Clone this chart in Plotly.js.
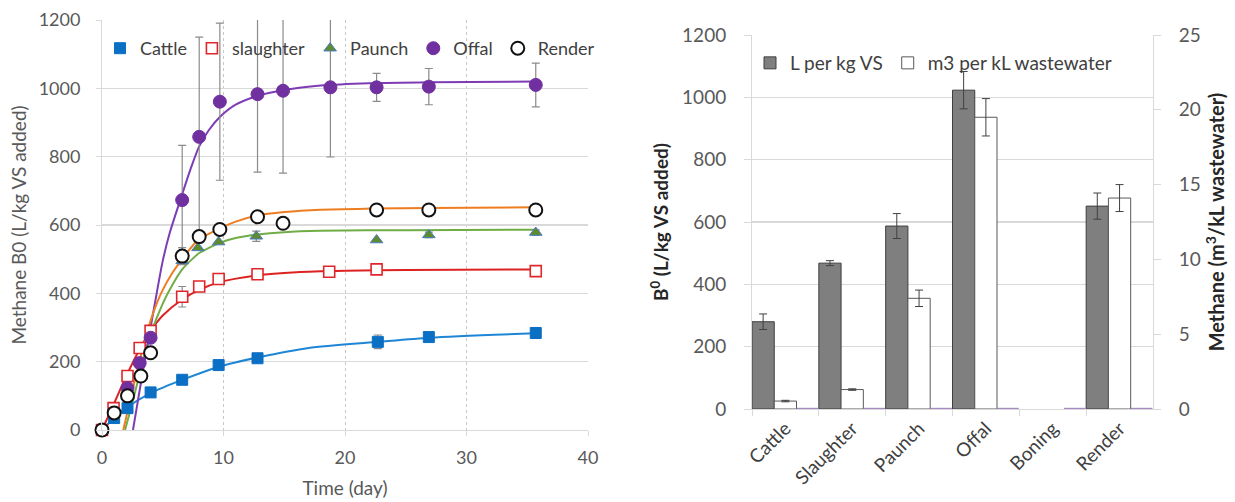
<!DOCTYPE html>
<html>
<head>
<meta charset="utf-8">
<script src="https://cdn.plot.ly/plotly-3.0.1.min.js"></script>
<style>html,body{margin:0;padding:0;background:#fff;}#chart{width:1235px;height:502px;}</style>
</head>
<body>
<div id="chart"></div>
<script>
// ---------- Left chart: cumulative methane (measured points) ----------
const cattleT = [0, 1, 2.1, 4, 6.6, 9.6, 12.8, 22.7, 26.9, 35.7];
const cattleY = [0, 35, 64, 110, 147, 190, 210, 258, 272, 284];
const cattleErr = [0, 0, 0, 0, 0, 0, 0, 20, 8, 15];

const slaughterT = [0, 0.95, 2.1, 3.1, 4, 6.6, 8, 9.6, 12.8, 18.7, 22.6, 35.7];
const slaughterY = [0, 64, 158, 240, 290, 390, 420, 442, 456, 463, 470, 465];
const slaughterErr = [0, 0, 0, 0, 0, 30, 0, 0, 0, 0, 8, 0];

const paunchT = [6.6, 7.9, 9.6, 12.7, 22.6, 26.9, 35.7];
const paunchY = [495, 533, 550, 567, 556, 571, 578];
const paunchErr = [0, 0, 0, 15, 0, 8, 8];

const offalT = [0, 2.1, 3.1, 4, 6.6, 8, 9.7, 12.8, 14.9, 18.8, 22.6, 26.9, 35.7];
const offalY = [0, 123, 196, 270, 673, 858, 961, 983, 993, 1003, 1003, 1005, 1010];
const offalErr = [0, 0, 0, 0, 160, 292, 230, 228, 241, 204, 41, 53, 64];

const renderT = [0, 1, 2.1, 3.2, 4, 6.6, 8, 9.7, 12.8, 14.9, 22.6, 26.9, 35.7];
const renderY = [0, 50, 100, 158, 226, 509, 566, 587, 624, 605, 644, 644, 644];
const renderErr = [0, 0, 0, 0, 0, 25, 0, 0, 0, 0, 12, 10, 15];

// ---------- Left chart: fitted curves ----------
const cattleFitT = [0, 1, 2, 4, 6.7, 9.7, 12.8, 17, 22.8, 27, 35.7];
const cattleFitY = [0, 35, 65, 108, 148, 186, 212, 240, 258, 270, 283];

const slaughterFitT = [0, 1, 2, 3, 4, 5, 6.6, 8, 9.6, 12.8, 16, 20, 25, 35.7];
const slaughterFitY = [0, 78, 158, 230, 290, 335, 382, 410, 432, 453, 462, 466, 468, 470];

const paunchFitT = [1.9, 2.5, 3, 3.5, 4, 5, 5.8, 6.6, 7.6, 8, 9.7, 11, 12.8, 15, 18, 25, 35.7];
const paunchFitY = [0, 80, 150, 220, 280, 370, 425, 470, 506, 518, 548, 562, 572, 579, 583, 585, 586];

const offalFitT = [2.55, 3, 3.5, 4, 4.5, 5, 5.6, 6.6, 7.3, 8, 8.8, 9.7, 11, 12.8, 15, 18, 22, 27, 35.7];
const offalFitY = [0, 95, 200, 300, 400, 495, 580, 690, 765, 830, 878, 916, 952, 978, 995, 1008, 1015, 1018, 1020];

const renderFitT = [1.75, 2.5, 3, 3.5, 4, 4.5, 5, 5.8, 6.6, 7.6, 8, 9.7, 11, 12.8, 15, 18, 22, 27, 35.7];
const renderFitY = [0, 115, 190, 258, 320, 370, 410, 460, 500, 545, 558, 590, 610, 628, 638, 645, 648, 650, 652];

// ---------- Right chart: bars (Boning has no bar) ----------
const categories = ['Cattle', 'Slaughter', 'Paunch', 'Offal', 'Boning', 'Render'];
const lPerKgVS = [280, 468, 587, 1023, null, 651];
const lPerKgVSErr = [25, 8, 40, 60, null, 42];
const m3PerKL = [0.53, 1.3, 7.4, 19.5, null, 14.1];
const m3PerKLErr = [0.05, 0.05, 0.55, 1.25, null, 0.9];
const otherSeries = [0.03, 0.03, 0.03, 0.03, 0.03, 0.03];

const FONT = 'Lato, "Open Sans", sans-serif';
const TXT = '#595959';
const GRID = '#d9d9d9';
const ERR = '#8a8a8a';

function fit(t, y, color) {
  return {x: t, y: y, type: 'scatter', mode: 'lines', xaxis: 'x', yaxis: 'y',
    line: {color: color, width: 2, shape: 'spline', smoothing: 0.7},
    showlegend: false, hoverinfo: 'skip'};
}
function pts(name, t, y, err, marker) {
  return {x: t, y: y, name: name, type: 'scatter', mode: 'markers', xaxis: 'x', yaxis: 'y',
    marker: marker, legend: 'legend', cliponaxis: false,
    error_y: {type: 'data', array: err, visible: true, color: ERR, thickness: 1.2, width: 4}};
}

const traces = [
  fit(cattleFitT, cattleFitY, '#1f86d6'),
  fit(slaughterFitT, slaughterFitY, '#dd2222'),
  fit(paunchFitT, paunchFitY, '#70ad47'),
  fit(offalFitT, offalFitY, '#7d3cb5'),
  fit(renderFitT, renderFitY, '#ee7d22'),
  pts('Cattle', cattleT, cattleY, cattleErr,
      {symbol: 'square', size: 11, color: '#0b6fc4', line: {color: '#0b6fc4', width: 1}}),
  pts('slaughter', slaughterT, slaughterY, slaughterErr,
      {symbol: 'square', size: 11, color: '#ffffff', line: {color: '#e0262a', width: 1.6}}),
  pts('Paunch', paunchT, paunchY, paunchErr,
      {symbol: 'triangle-up', size: 11, color: '#5f8a2e', line: {color: '#4a7cc4', width: 1}}),
  pts('Offal', offalT, offalY, offalErr,
      {symbol: 'circle', size: 13, color: '#7030a0', line: {color: '#7030a0', width: 1}}),
  pts('Render', renderT, renderY, renderErr,
      {symbol: 'circle', size: 13, color: '#ffffff', line: {color: '#111111', width: 2}}),
  // right chart
  {x: categories, y: lPerKgVS, name: 'L per kg VS', type: 'bar', xaxis: 'x2', yaxis: 'y2',
   width: 0.333, offset: -0.5, legend: 'legend2',
   marker: {color: '#7f7f7f', line: {color: '#3f3f3f', width: 1}},
   error_y: {type: 'data', array: lPerKgVSErr, visible: true, color: '#404040', thickness: 1, width: 4}},
  {x: categories, y: m3PerKL, name: 'm3 per kL wastewater', type: 'bar', xaxis: 'x2', yaxis: 'y3',
   width: 0.333, offset: -0.167, legend: 'legend2',
   marker: {color: '#ffffff', line: {color: '#595959', width: 1}},
   error_y: {type: 'data', array: m3PerKLErr, visible: true, color: '#404040', thickness: 1, width: 4}},
  {x: categories, y: otherSeries, name: 'other', type: 'bar', xaxis: 'x2', yaxis: 'y3',
   width: 0.3, offset: 0.18, showlegend: false, hoverinfo: 'skip',
   marker: {color: '#ffffff', line: {color: '#a58ac4', width: 1.5}}}
];

const layout = {
  width: 1235, height: 502,
  margin: {l: 0, r: 0, t: 0, b: 0},
  paper_bgcolor: '#ffffff', plot_bgcolor: 'rgba(0,0,0,0)',
  font: {family: FONT, size: 18, color: TXT},
  showlegend: true,
  xaxis: {domain: [102/1235, 588/1235], range: [0, 40], dtick: 10, tick0: 0,
    showgrid: true, gridcolor: '#c8c8c8', griddash: 'dot', gridwidth: 1,
    zeroline: false, showline: true, linecolor: GRID, linewidth: 1, mirror: false,
    ticks: 'outside', ticklen: 5, tickcolor: GRID, tickfont: {size: 18, color: TXT},
    ticklabelstandoff: 6,
    title: {text: 'Time (day)', font: {size: 19, color: TXT}, standoff: 15}},
  yaxis: {domain: [1 - 430/502, 1 - 20/502], range: [0, 1200], dtick: 200,
    showgrid: true, gridcolor: GRID, gridwidth: 1.2, zeroline: false,
    showline: true, linecolor: GRID, ticks: 'outside', ticklen: 5, tickcolor: GRID,
    tickfont: {size: 18, color: TXT}, ticklabelstandoff: 12,
    title: {text: 'Methane B0 (L/kg VS added)', font: {size: 19, color: TXT}, standoff: 6}},
  xaxis2: {domain: [752/1235, 1153/1235], anchor: 'y2', type: 'category',
    showgrid: false, zeroline: false, showline: true, linecolor: GRID,
    ticks: 'outside', tickson: 'boundaries', ticklen: 6, tickcolor: GRID,
    tickangle: -45, tickfont: {size: 19, color: '#404040'}},
  yaxis2: {domain: [1 - 409/502, 1 - 35/502], anchor: 'x2', range: [0, 1200], dtick: 200,
    showgrid: true, gridcolor: GRID, gridwidth: 1.2, zeroline: false,
    showline: true, linecolor: GRID, ticks: 'outside', ticklen: 7, tickcolor: GRID,
    tickfont: {size: 19, color: TXT}, ticklabelstandoff: 14,
    title: {text: '<b>B<sup>0</sup> (L/kg VS added)</b>', font: {size: 19, color: '#262626'}, standoff: 8}},
  yaxis3: {domain: [1 - 409/502, 1 - 35/502], anchor: 'x2', overlaying: 'y2', side: 'right',
    range: [0, 25], dtick: 5, showgrid: false, zeroline: false,
    showline: true, linecolor: GRID, ticks: 'outside', ticklen: 7, tickcolor: GRID,
    tickfont: {size: 19, color: TXT}, ticklabelstandoff: 14,
    title: {text: '<b>Methane (m<sup>3</sup>/kL wastewater)</b>', font: {size: 20, color: '#262626'}, standoff: 10}},
  legend: {orientation: 'h', x: 100/1235, y: 1 - 30/502, xanchor: 'left', yanchor: 'top',
    bgcolor: 'rgba(255,255,255,0)', font: {size: 18, color: '#404040'}, itemwidth: 30,
    tracegroupgap: 0, traceorder: 'normal'},
  legend2: {orientation: 'h', x: 750/1235, y: 1 - 44/502, xanchor: 'left', yanchor: 'top',
    bgcolor: 'rgba(255,255,255,0)', font: {size: 19, color: '#404040'}, itemwidth: 30}
};

Plotly.newPlot('chart', traces, layout, {displayModeBar: false, staticPlot: true});
</script>
</body>
</html>
